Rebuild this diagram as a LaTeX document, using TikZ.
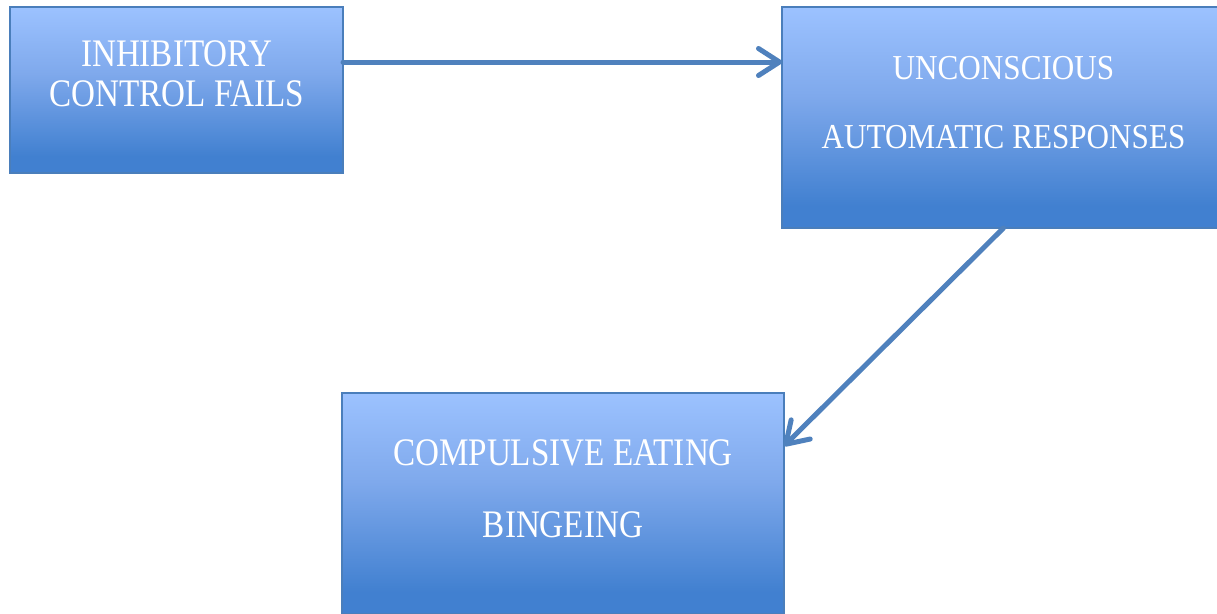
\documentclass[tikz,border=0pt]{standalone}
\usepackage{fontspec}
\newfontfamily\boxfont[FakeStretch=0.85]{Liberation Serif}
\newfontfamily\boxfontb[FakeStretch=0.89]{Liberation Serif}
\usetikzlibrary{arrows.meta,calc}
\definecolor{boxlt}{HTML}{9CC2FF}
\definecolor{boxmd}{HTML}{7FA9EC}
\definecolor{boxdk}{HTML}{4180D0}
\definecolor{boxedge}{HTML}{4A7EBB}
\definecolor{arrcol}{HTML}{4F81BD}
\pgfdeclareverticalshading{boxshade}{100bp}{color(0bp)=(boxdk); color(30bp)=(boxdk); color(55bp)=(boxmd); color(75bp)=(boxlt); color(100bp)=(boxlt)}
\tikzset{
  box/.style={draw=boxedge, line width=1.5pt, shading=boxshade, anchor=north west, inner sep=0pt, outer sep=0pt},
  bigtxt/.style={text=white, font=\boxfont\fontsize{39}{41}\selectfont, anchor=base, inner sep=0pt},
  smalltxt/.style={text=white, font=\boxfontb\fontsize{35}{37}\selectfont, anchor=base, inner sep=0pt},
  arr/.style={draw=arrcol, line width=5pt, line cap=round, -{Straight Barb[length=21pt,width=27pt,line cap=round,line join=round]}}
}
\begin{document}
\begin{tikzpicture}[x=1pt,y=-1pt]
\useasboundingbox (0,0) rectangle (1217,613);
\fill[white] (0,0) rectangle (1217,613);
% boxes
\node[box, minimum width=333pt, minimum height=166pt] (b1) at (10,7) {};
\node[box, minimum width=443pt, minimum height=221pt] (b2) at (782,7) {};
\node[box, minimum width=442pt, minimum height=221pt] (b3) at (342,393) {};
% texts
\node[bigtxt] (t1a) at (176.5,66) {INHIBITORY};
\node[bigtxt] (t1b) at (176.5,106) {CONTROL FAILS};
\node[smalltxt] (t2a) at (1003.5,79) {UNCONSCIOUS};
\node[smalltxt] (t2b) at (1003.5,148) {AUTOMATIC RESPONSES};
\node[bigtxt] (t3a) at (563,465) {COMPULSIVE EATING};
\node[bigtxt] (t3b) at (563,537) {BINGEING};
% connectors
\coordinate (a1) at (0,62);
\coordinate (a2) at (0,446);
\draw[arr] (b1.east |- a1) -- (b2.west |- a1);
\draw[arr] (b2.south) -- (b3.east |- a2);
\end{tikzpicture}
\end{document}
